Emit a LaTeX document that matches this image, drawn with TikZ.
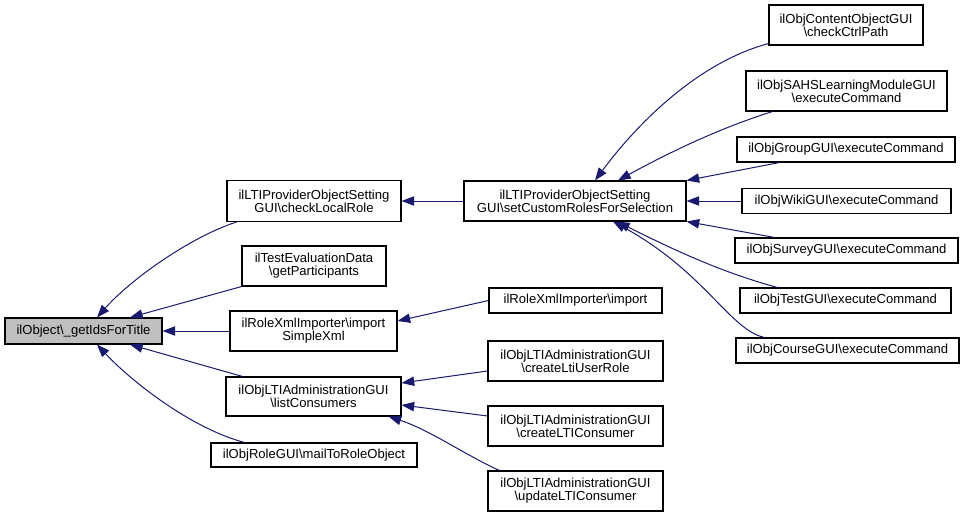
\documentclass[tikz,border=0pt]{standalone}
\usepackage{fontspec}
\setmainfont{Liberation Sans}
\usetikzlibrary{arrows.meta,calc}
\newcommand{\bsl}{\textbackslash}
\definecolor{edgecol}{HTML}{191970}
\definecolor{rootfill}{HTML}{BFBFBF}
\begin{document}
\begin{tikzpicture}[x=0.75pt,y=-0.75pt,
  box/.style={draw=black,line width=0.8pt,inner sep=0pt,align=center,fill=white,
    font=\fontsize{9.8}{9.6}\selectfont},
  sz/.style 2 args={minimum width=#1*0.75pt,minimum height=#2*0.75pt},
  edge/.style={draw=edgecol,line width=0.75pt,-{Triangle[length=9.5pt,width=7pt]}}]
\useasboundingbox (0,0) rectangle (964,517);
\fill[white] (0,0) rectangle (964,517);
% nodes
\node[box,fill=rootfill,sz={157}{26}] (root) at (83.5,331) {ilObject\bsl\_getIdsForTitle};
\node[box,sz={174}{41}] (clr) at (314,201) {ilLTIProviderObjectSetting\\GUI\bsl checkLocalRole};
\node[box,sz={144}{40}] (gp) at (314,266) {ilTestEvaluationData\\\bsl getParticipants};
\node[box,sz={167}{40}] (isx) at (313.5,331) {ilRoleXmlImporter\bsl import\\SimpleXml};
\node[box,sz={175}{39}] (lc) at (313.5,396.5) {ilObjLTIAdministrationGUI\\\bsl listConsumers};
\node[box,sz={206}{24}] (mail) at (314,455) {ilObjRoleGUI\bsl mailToRoleObject};
\node[box,sz={222}{40}] (sc) at (575,201) {ilLTIProviderObjectSetting\\GUI\bsl setCustomRolesForSelection};
\node[box,sz={173}{25}] (ri) at (575.5,300.5) {ilRoleXmlImporter\bsl import};
\node[box,sz={175}{40}] (clur) at (575.5,361) {ilObjLTIAdministrationGUI\\\bsl createLtiUserRole};
\node[box,sz={175}{40}] (clc) at (575.5,426) {ilObjLTIAdministrationGUI\\\bsl createLTIConsumer};
\node[box,sz={175}{40}] (ulc) at (575.5,491) {ilObjLTIAdministrationGUI\\\bsl updateLTIConsumer};
\node[box,sz={154}{40}] (ccp) at (846,25) {ilObjContentObjectGUI\\\bsl checkCtrlPath};
\node[box,sz={201}{40}] (sahs) at (846.5,91) {ilObjSAHSLearningModuleGUI\\\bsl executeCommand};
\node[box,sz={218}{25}] (grp) at (846,149.5) {ilObjGroupGUI\bsl executeCommand};
\node[box,sz={209}{25}] (wiki) at (846.5,201) {ilObjWikiGUI\bsl executeCommand};
\node[box,sz={223}{25}] (surv) at (846.5,250.5) {ilObjSurveyGUI\bsl executeCommand};
\node[box,sz={211}{25}] (test) at (845.5,300.5) {ilObjTestGUI\bsl executeCommand};
\node[box,sz={223}{25}] (crs) at (847.5,350.5) {ilObjCourseGUI\bsl executeCommand};
% edges to root
\draw[edge] ($(clr.south west)+(10,0)$) .. controls (190,237) and (130,280) .. ($(root.north)+(13.5,0)$);
\draw[edge] (gp.south west) -- ($(root.north)+(46.5,0)$);
\draw[edge] (isx.west) -- (root.east);
\draw[edge] ($(lc.north west)+(17,0)$) -- ($(root.south)+(46.5,0)$);
\draw[edge] ($(mail.north west)+(34,0)$) .. controls (190,428) and (130,380) .. ($(root.south)+(13.5,0)$);
% second level
\draw[edge] (sc.west) -- (clr.east);
\draw[edge] (ri.west) -- ($(isx.east)+(0,-10)$);
\draw[edge] ($(clur.west)+(0,10)$) -- ($(lc.east)+(0,-13.5)$);
\draw[edge] ($(clc.west)+(0,-10)$) -- ($(lc.east)+(0,8.5)$);
\draw[edge] ($(ulc.north west)+(12,0)$) .. controls (465,455) and (430,430) .. ($(lc.south east)+(-13,0)$);
% to setCustomRoles
\draw[edge] ($(ccp.south west)+(0,-2)$) .. controls (700,62) and (640,120) .. ($(sc.north)+(20,0)$);
\draw[edge] ($(sahs.south west)+(27,0)$) .. controls (720,128) and (670,152) .. ($(sc.north)+(43,0)$);
\draw[edge] ($(grp.south west)+(43,0)$) -- (sc.north east);
\draw[edge] (wiki.west) -- (sc.east);
\draw[edge] ($(surv.north west)+(40,0)$) -- (sc.south east);
\draw[edge] ($(test.north west)+(38,0)$) .. controls (720,272) and (670,248) .. ($(sc.south)+(42,0)$);
\draw[edge] ($(crs.north west)+(29,0)$) .. controls (730,330) and (705,272) .. ($(sc.south)+(38,0)$);
\end{tikzpicture}
\end{document}
